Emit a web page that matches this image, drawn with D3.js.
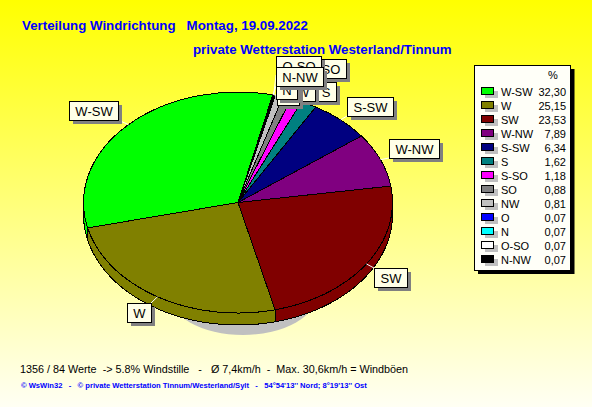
<!DOCTYPE html>
<html><head><meta charset="utf-8">
<script src="https://cdnjs.cloudflare.com/ajax/libs/d3/7.8.5/d3.min.js"></script>
<style>
html,body{margin:0;padding:0;overflow:hidden;background:#fff}
svg{display:block}
text{font-family:"Liberation Sans",Arial,sans-serif;white-space:pre}
</style></head><body>
<svg id="c" width="592" height="407"></svg>
<script>
const categories=["W-SW","W","SW","W-NW","S-SW","S","S-SO","SO","NW","O","N","O-SO","N-NW"];
const values=[32.30,25.15,23.53,7.89,6.34,1.62,1.18,0.88,0.81,0.07,0.07,0.07,0.07];
const valueLabels=["32,30","25,15","23,53","7,89","6,34","1,62","1,18","0,88","0,81","0,07","0,07","0,07","0,07"];
const colors=["#00ff00","#808000","#800000","#800080","#000080","#008080","#ff00ff","#808080","#c0c0c0","#0000ff","#00ffff","#ffffff","#000000"];
const labelOffsetX=[-59.5,-30.4,7.6,8.5,6.3,6,1.4,28,1.6,1.5,2,2,2.5];
const labelOffsetY=[-23.6,6.2,4,-20.8,-23,-22,-41,-39,-14,-9,-15,-39,-28];
const titleLines=["Verteilung Windrichtung   Montag, 19.09.2022","private Wetterstation Westerland/Tinnum"];
const footerMain="1356 / 84 Werte  -> 5.8% Windstille   -   Ø 7,4km/h  -  Max. 30,6km/h = Windböen";
const footerSmall="© WsWin32   -   © private Wetterstation Tinnum/Westerland/Sylt   -   54°54'13'' Nord; 8°19'13'' Ost";

const svg=d3.select("#c");
const defs=svg.append("defs");
const g=defs.append("linearGradient").attr("id","bg").attr("x1",0).attr("y1",0).attr("x2",0).attr("y2",1);
g.append("stop").attr("offset",0).attr("stop-color","#ffff00");
g.append("stop").attr("offset",1).attr("stop-color","#fffff4");
svg.append("rect").attr("width",592).attr("height",407).attr("fill","url(#bg)");

// titles
svg.append("text").attr("x",22).attr("y",30).attr("fill","#0000ff").attr("font-weight","bold").attr("font-size",13.3).text(titleLines[0]);
svg.append("text").attr("x",193).attr("y",54).attr("fill","#0000ff").attr("font-weight","bold").attr("font-size",13.3).text(titleLines[1]);

// pie geometry
const cx=238,cy=202.5,rx=154.5,ry=110.5,depth=12;
const start=13*Math.PI/180;
const arcs=d3.pie().sort(null).value(d=>d).startAngle(start).endAngle(start-2*Math.PI)(values);
const pt=(a,dy=0)=>[cx+rx*Math.sin(a),cy-ry*Math.cos(a)+dy];

// ground shadow
svg.append("ellipse").attr("cx",243).attr("cy",292).attr("rx",75).attr("ry",43).attr("fill","#c0c0c0");

// wall: parts of every slice that face the front
const line=d3.line();
const wallG=svg.append("g").attr("shape-rendering","crispEdges");
arcs.forEach((d,i)=>{
  let hi=d.startAngle, lo=d.endAngle;
  [[-3*Math.PI/2,-Math.PI/2],[-7*Math.PI/2,-5*Math.PI/2]].forEach(([a0,a1])=>{
    const s=Math.max(lo,a0), e=Math.min(hi,a1);
    if(e<=s) return;
    const ang=d3.range(0,41).map(k=>s+(e-s)*k/40);
    const poly=ang.map(a=>pt(a)).concat(ang.slice().reverse().map(a=>pt(a,depth)));
    wallG.append("path").attr("d",line(poly)+"Z").attr("fill",colors[i]).attr("stroke","#000").attr("stroke-width",1);
  });
});

// top faces
const arcGen=d3.arc().innerRadius(0).outerRadius(1);
const faces=svg.append("g").attr("transform",`translate(${cx},${cy}) scale(${rx},${ry})`).attr("shape-rendering","crispEdges");
faces.selectAll("path").data(arcs).join("path").attr("d",arcGen)
  .attr("fill",(d,i)=>colors[i]).attr("stroke","#000").attr("stroke-width",1).attr("vector-effect","non-scaling-stroke");

// labels
const lab=svg.append("g");
const measure=svg.append("text").attr("font-size",13).attr("visibility","hidden");
const boxes=arcs.map((d,i)=>{
  const a=(d.startAngle+d.endAngle)/2,[ax,ay]=pt(a);
  measure.text(categories[i]);
  const w=Math.round(measure.node().getComputedTextLength()+12),h=19;
  return {i,ax,ay,x:Math.round(ax+labelOffsetX[i]),y:Math.round(ay+labelOffsetY[i]),w,h};
});
measure.remove();
boxes.forEach(b=>{
  const nx=Math.max(b.x,Math.min(b.ax,b.x+b.w)),ny=Math.max(b.y,Math.min(b.ay,b.y+b.h));
  lab.append("line").attr("x1",b.ax).attr("y1",b.ay).attr("x2",nx).attr("y2",ny).attr("stroke","#fff").attr("stroke-width",1);
});
boxes.forEach(b=>{
  lab.append("rect").attr("x",b.x+4).attr("y",b.y+4).attr("width",b.w).attr("height",b.h).attr("fill","#808080");
  lab.append("rect").attr("x",b.x+.5).attr("y",b.y+.5).attr("width",b.w).attr("height",b.h).attr("fill","#ffffe8").attr("stroke","#000");
  lab.append("text").attr("x",b.x+b.w/2+.5).attr("y",b.y+14.5).attr("text-anchor","middle").attr("font-size",13).attr("fill","#000").text(categories[b.i]);
});

// legend
const lg=svg.append("g");
lg.append("rect").attr("x",478).attr("y",69).attr("width",96.5).attr("height",205).attr("fill","#000");
lg.append("rect").attr("x",474.5).attr("y",65.5).attr("width",96).attr("height",205).attr("fill","#fffff8").attr("stroke","#000");
lg.append("text").attr("x",553).attr("y",79).attr("text-anchor","middle").attr("font-size",11).text("%");
const rowY=d3.scaleLinear().domain([0,categories.length-1]).range([87,255]);
categories.forEach((c,i)=>{
  const y=Math.round(rowY(i));
  lg.append("rect").attr("x",485).attr("y",y+4).attr("width",13).attr("height",7).attr("fill","#c0c0c0");
  lg.append("rect").attr("x",481.5).attr("y",y+.5).attr("width",12).attr("height",7).attr("fill",colors[i]).attr("stroke","#000");
  lg.append("text").attr("x",501).attr("y",y+9).attr("font-size",11).text(c);
  lg.append("text").attr("x",566).attr("y",y+9).attr("text-anchor","end").attr("font-size",11).text(valueLabels[i]);
});

// footers
svg.append("text").attr("x",20).attr("y",373).attr("font-size",10.8).attr("fill","#000").text(footerMain);
svg.append("text").attr("x",21).attr("y",388).attr("font-size",7.6).attr("font-weight","bold").attr("fill","#0000ff").text(footerSmall);
</script>
</body></html>
